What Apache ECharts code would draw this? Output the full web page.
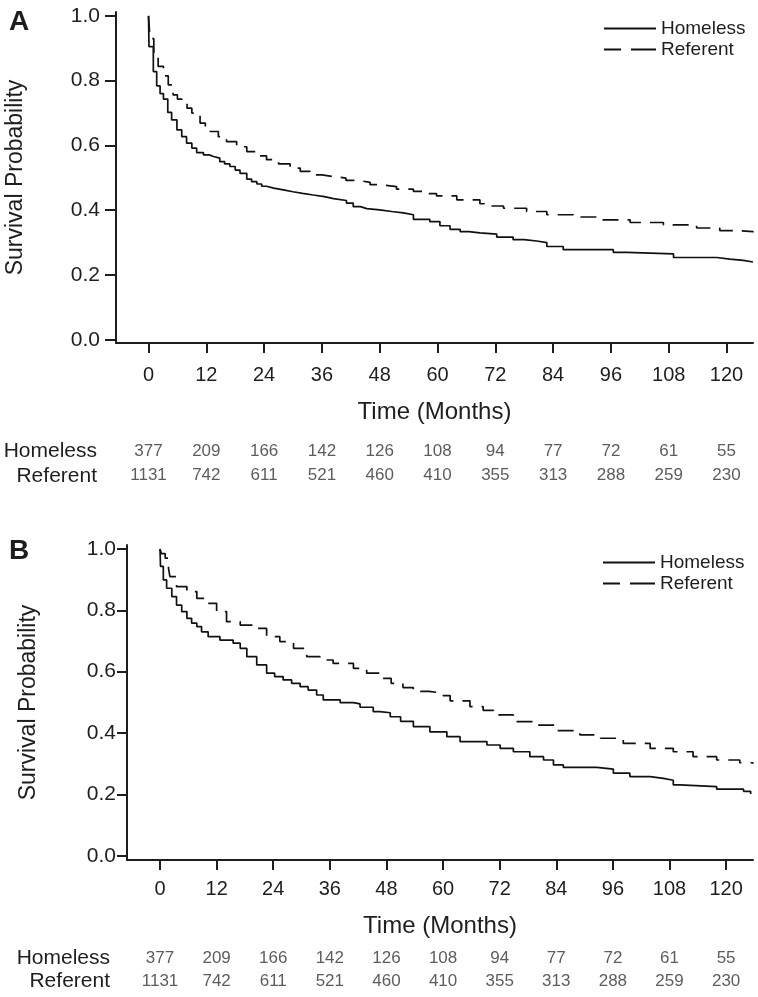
<!DOCTYPE html>
<html>
<head>
<meta charset="utf-8">
<script src="https://cdn.jsdelivr.net/npm/echarts@6/dist/echarts.min.js"></script>
<style>
  body { margin: 0; background: #fff; }
  #chart { width: 758px; height: 997px; }
</style>
</head>
<body>
<div id="chart"></div>
<script>
// Kaplan-Meier steps: [month, survival]
var homelessA = [[0,1.0],[0.1,0.905],[1.0,0.828],[1.7,0.784],[2.4,0.760],[3.1,0.743],[4.0,0.702],[4.8,0.679],[5.9,0.648],[6.9,0.627],
  [7.9,0.607],[9.0,0.592],[10.0,0.578],[11.4,0.571],[12.6,0.566],[13.5,0.561],[14.8,0.550],[15.8,0.543],[16.9,0.535],[18.0,0.524],
  [19.0,0.514],[20.4,0.496],[21.4,0.488],[22.5,0.481],[23.5,0.474],[24.5,0.468],[26.0,0.463],[28.0,0.457],[30.0,0.452],[32.0,0.447],
  [34.2,0.442],[36.5,0.436],[38.4,0.430],[41.1,0.422],[42.5,0.411],[44.0,0.405],[45.3,0.401],[48.0,0.396],[50.5,0.392],[52.9,0.386],
  [55.0,0.372],[58.4,0.365],[60.5,0.352],[62.6,0.341],[64.7,0.334],[66.5,0.330],[68.8,0.326],[72.3,0.317],[75.7,0.309],[78.0,0.305],
  [80.6,0.300],[82.7,0.288],[86.1,0.278],[96.5,0.270],[99.3,0.265],[109.0,0.254],[118.0,0.249],[120.7,0.245],[123.5,0.240],[125.5,0.238]];

var referentA = [[0,1.0],[0.3,0.930],[1.1,0.880],[2.0,0.844],[3.1,0.815],[4.1,0.787],[5.1,0.756],[6.0,0.743],[6.9,0.731],[8.0,0.715],
  [9.0,0.700],[10.7,0.669],[11.8,0.655],[12.8,0.643],[14.5,0.627],[16.2,0.612],[18.3,0.596],[20.4,0.581],[22.5,0.568],[24.5,0.556],
  [27.0,0.543],[29.4,0.530],[31.5,0.520],[33.5,0.509],[36.0,0.504],[38.4,0.499],[41.0,0.492],[43.5,0.486],[46.0,0.479],[48.0,0.473],
  [51.5,0.465],[55.0,0.458],[57.5,0.451],[59.8,0.444],[64.0,0.432],[68.8,0.420],[71.0,0.413],[73.7,0.406],[78.5,0.396],[82.7,0.386],
  [88.2,0.379],[93.7,0.370],[100.0,0.362],[106.9,0.355],[113.8,0.345],[118.6,0.337],[122.0,0.334],[125.5,0.331]];

var homelessB = [[0,1.0],[0.1,0.943],[0.7,0.899],[1.4,0.872],[2.5,0.845],[3.5,0.817],[4.6,0.796],[5.7,0.774],[6.7,0.758],[7.8,0.747],
  [8.8,0.730],[10.2,0.714],[12.7,0.703],[15.5,0.693],[17.0,0.676],[18.4,0.649],[20.5,0.622],[22.6,0.595],[24.3,0.584],[26.1,0.573],
  [27.9,0.562],[29.7,0.551],[31.4,0.540],[33.2,0.524],[34.6,0.508],[38.2,0.499],[41.0,0.495],[42.4,0.484],[45.2,0.470],[46.6,0.466],
  [48.8,0.453],[51.0,0.438],[53.7,0.421],[57.2,0.404],[60.8,0.388],[63.6,0.372],[69.3,0.361],[72.1,0.350],[74.9,0.339],[78.4,0.323],
  [81.3,0.312],[83.4,0.296],[85.5,0.288],[92.6,0.282],[96.1,0.269],[99.6,0.258],[103.9,0.252],[106.7,0.246],[108.8,0.231],[110.2,0.225],
  [118.0,0.217],[123.7,0.210],[125.2,0.201]];

var referentB = [[0,1.0],[0.3,0.985],[1.1,0.970],[1.8,0.937],[2.1,0.910],[3.5,0.877],[5.7,0.861],[7.8,0.839],[9.9,0.823],[12.0,0.796],
  [14.1,0.763],[17.0,0.752],[19.8,0.741],[22.6,0.714],[25.4,0.698],[28.3,0.676],[31.1,0.649],[33.9,0.638],[36.7,0.627],[41.0,0.611],
  [43.8,0.595],[46.6,0.578],[49.0,0.562],[51.5,0.548],[53.7,0.536],[57.0,0.530],[60.0,0.522],[61.5,0.505],[65.7,0.486],[68.5,0.474],
  [70.7,0.459],[74.9,0.437],[79.1,0.426],[84.0,0.408],[89.0,0.394],[93.4,0.383],[98.2,0.366],[103.9,0.350],[108.8,0.339],[113.0,0.323],
  [118.0,0.312],[122.9,0.303],[125.7,0.300]];

var monthTicks = [0, 12, 24, 36, 48, 60, 72, 84, 96, 108, 120];
var probTicks = [0, 0.2, 0.4, 0.6, 0.8, 1.0];
var groups = ['Homeless', 'Referent'];
var atRiskHomeless = [377, 209, 166, 142, 126, 108, 94, 77, 72, 61, 55];
var atRiskReferent = [1131, 742, 611, 521, 460, 410, 355, 313, 288, 259, 230];

var FONT = '"Liberation Sans", Arial, Helvetica, sans-serif';
var NARROW = '"Liberation Sans Narrow", "Liberation Sans", Arial, sans-serif';
var INK = '#1e1e1e';

var myChart = echarts.init(document.getElementById('chart'), null, { renderer: 'canvas' });

function riskRows() {
  var rows = [];
  monthTicks.forEach(function (m, i) {
    rows.push([m, groups[0], atRiskHomeless[i]]);
    rows.push([m, groups[1], atRiskReferent[i]]);
  });
  return rows;
}

function xAxisFor(grid, min, max, margin, gap) {
  return {
    type: 'value', gridIndex: grid, min: min, max: max,
    name: 'Time (Months)', nameLocation: 'middle', nameGap: gap,
    nameTextStyle: { fontSize: 24, color: INK, fontFamily: FONT },
    axisLine: { show: true, onZero: false, lineStyle: { color: INK, width: 2 } },
    axisTick: { show: true, length: 10, customValues: monthTicks, lineStyle: { color: INK, width: 2 } },
    axisLabel: { customValues: monthTicks, margin: margin, fontSize: 20, color: INK, fontFamily: FONT },
    splitLine: { show: false }
  };
}

function yAxisFor(grid, min, max, margin, gap, tickLen) {
  return {
    type: 'value', gridIndex: grid, min: min, max: max,
    name: 'Survival Probability', nameLocation: 'middle', nameGap: gap,
    nameTextStyle: { fontSize: 23, color: INK, fontFamily: FONT },
    axisLine: { show: true, onZero: false, lineStyle: { color: INK, width: 2 } },
    axisTick: { show: true, length: tickLen, customValues: probTicks, lineStyle: { color: INK, width: 2 } },
    axisLabel: {
      customValues: probTicks, margin: margin, fontSize: 21, color: INK, fontFamily: FONT,
      formatter: function (v) { return v.toFixed(1); }
    },
    splitLine: { show: false }
  };
}

function tableX(grid, min, max) {
  return { type: 'value', gridIndex: grid, min: min, max: max, show: false };
}

function tableY(grid, margin) {
  return {
    type: 'category', gridIndex: grid, data: groups, inverse: true,
    axisLine: { show: false }, axisTick: { show: false },
    axisLabel: { interval: 0, margin: margin, fontSize: 21, color: INK, fontFamily: FONT }
  };
}

function curve(name, data, axis, dashed) {
  return {
    name: name, type: 'line', step: 'end', data: data,
    xAxisIndex: axis, yAxisIndex: axis,
    symbol: 'none', showSymbol: false,
    lineStyle: { color: '#111', width: 1.7, type: dashed ? [16, 9] : 'solid' },
    itemStyle: { color: '#111' }
  };
}

function riskSeries(axis) {
  return {
    type: 'scatter', xAxisIndex: axis, yAxisIndex: axis,
    data: riskRows(), symbolSize: 0, silent: true,
    label: {
      show: true, position: 'inside', fontSize: 17, color: '#333', fontFamily: NARROW,
      formatter: function (p) { return String(p.value[2]); }
    }
  };
}

function legendFor(left, top) {
  return {
    left: left, top: top, orient: 'vertical', itemWidth: 52, itemHeight: 12, itemGap: 2,
    itemStyle: { opacity: 0 }, selectedMode: false,
    textStyle: { fontSize: 19, color: INK, fontFamily: FONT },
    data: [
      { name: groups[0] },
      { name: groups[1], lineStyle: { type: [17, 10, 25] } }
    ]
  };
}

var option = {
  animation: false,
  backgroundColor: '#fff',
  grid: [
    { left: 116, top: 12, width: 637, height: 331, outerBoundsMode: 'none' },
    { left: 127, top: 545, width: 626, height: 315, outerBoundsMode: 'none' },
    { left: 116, top: 439, width: 637, height: 49, outerBoundsMode: 'none' },
    { left: 127, top: 947, width: 626, height: 46, outerBoundsMode: 'none' }
  ],
  xAxis: [
    xAxisFor(0, -6.75, 125.5, 22, 57),
    xAxisFor(1, -7.0, 125.7, 19, 54),
    tableX(2, -6.75, 125.5),
    tableX(3, -7.0, 125.7)
  ],
  yAxis: [
    yAxisFor(0, -0.01, 1.012, 16, 89, 11),
    yAxisFor(1, -0.014, 1.013, 11, 87, 10),
    tableY(2, 19),
    tableY(3, 17)
  ],
  legend: [legendFor(598, 14), legendFor(597, 548)],
  graphic: [
    { type: 'text', left: 9, top: 8, style: { text: 'A', fontSize: 28, fontWeight: 'bold', fill: INK, fontFamily: FONT } },
    { type: 'text', left: 9, top: 537, style: { text: 'B', fontSize: 28, fontWeight: 'bold', fill: INK, fontFamily: FONT } }
  ],
  series: [
    curve('Homeless', homelessA, 0, false),
    curve('Referent', referentA, 0, true),
    curve('Homeless', homelessB, 1, false),
    curve('Referent', referentB, 1, true),
    riskSeries(2),
    riskSeries(3)
  ]
};

myChart.setOption(option);
</script>
</body>
</html>
